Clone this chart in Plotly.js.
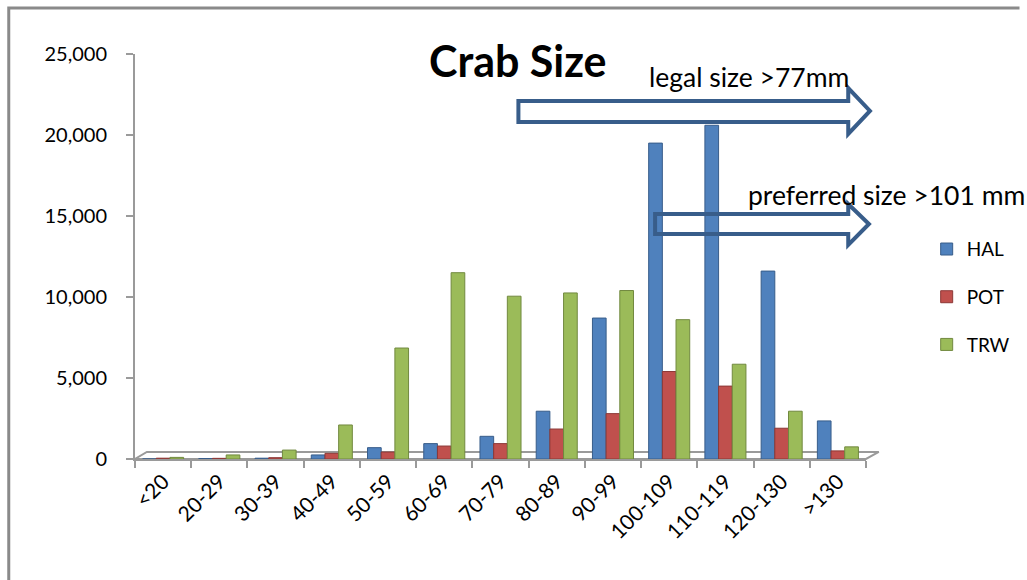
<!DOCTYPE html>
<html>
<head>
<meta charset="utf-8">
<script src="https://cdn.plot.ly/plotly-3.0.1.min.js"></script>
<style>html,body{margin:0;padding:0;background:#fff;}#chart{width:1027px;height:580px;}</style>
</head>
<body>
<div id="chart"></div>
<script>
const categories = ['<20','20-29','30-39','40-49','50-59','60-69','70-79','80-89','90-99','100-109','110-119','120-130','>130'];
const HAL = [0, 30, 50, 250, 700, 950, 1400, 2950, 8700, 19500, 20600, 11600, 2350];
const POT = [50, 40, 80, 350, 430, 800, 950, 1850, 2800, 5400, 4500, 1900, 500];
const TRW = [100, 250, 550, 2100, 6850, 11500, 10050, 10250, 10400, 8600, 5850, 2950, 750];
const seriesNames = ['HAL','POT','TRW'];
const seriesColors = ['#4F81BD','#C0504D','#9BBB59'];
const sideColors = ['#385D8A','#8C3836','#71893F'];
const yTicks = [0, 5000, 10000, 15000, 20000, 25000];

const FONT = 'Lato, "Open Sans", sans-serif';
const data = [HAL, POT, TRW].map((vals, i) => ({
  type: 'bar', x: categories, y: vals, name: seriesNames[i], legendgroup: seriesNames[i],
  marker: {color: seriesColors[i], line: {color: sideColors[i], width: 1}},
  hoverinfo: 'x+y+name'
}));

const gray = '#9a9a9a';
const arrowColor = '#385D8A';
function arrowPath(xl, xb, xt, yt, yb, ht, hb, ym) {
  return `M${xl},${yt} L${xb},${yt} L${xb},${ht} L${xt},${ym} L${xb},${hb} L${xb},${yb} L${xl},${yb} Z`;
}

const layout = {
  width: 1027, height: 580,
  margin: {l: 135, r: 151, t: 54, b: 121, pad: 0},
  paper_bgcolor: '#fff', plot_bgcolor: 'rgba(0,0,0,0)',
  font: {family: FONT, color: '#000', size: 20},
  barmode: 'group', bargap: 0.27, bargroupgap: 0,
  showlegend: true,
  legend: {x: 1.083, y: 0.565, xanchor: 'left', yanchor: 'top', font: {size: 19, family: FONT},
           tracegroupgap: 20, bgcolor: 'rgba(0,0,0,0)', itemwidth: 30},
  xaxis: {type: 'category', tickangle: -45, showline: true, linecolor: gray, linewidth: 2,
          ticks: 'outside', tickson: 'boundaries', ticklen: 7, tickcolor: gray, tickwidth: 2,
          showgrid: false, zeroline: false, tickfont: {size: 21, family: FONT}, fixedrange: true},
  yaxis: {range: [0, 25000], tickvals: yTicks, tickformat: ',', showline: true, linecolor: gray, linewidth: 2,
          ticks: 'outside', ticklen: 7, tickcolor: gray, tickwidth: 2, showgrid: false, zeroline: false,
          tickfont: {size: 20, family: FONT}, ticklabelstandoff: 15, fixedrange: true},
  shapes: [
    {type: 'path', xref: 'paper', yref: 'paper', path: 'M-0.1727,-0.31 L-0.1727,1.1136 L1.21,1.1136',
     line: {color: '#8a8a8a', width: 3}, layer: 'below'},
    {type: 'path', xref: 'paper', yref: 'paper', path: 'M0,0 L1,0 L1.0175,0.0173 L0.0162,0.0173 Z',
     line: {color: gray, width: 2}, fillcolor: '#ffffff', layer: 'below'},
    {type: 'path', xref: 'paper', yref: 'paper',
     path: arrowPath(0.5245, 0.9757, 1.0054, 0.884, 0.8321, 0.916, 0.8025, 0.8593),
     line: {color: arrowColor, width: 4}, fillcolor: 'rgba(255,255,255,0)', layer: 'above'},
    {type: 'path', xref: 'paper', yref: 'paper',
     path: arrowPath(0.7115, 0.9757, 1.004, 0.6049, 0.5556, 0.6296, 0.5284, 0.5802),
     line: {color: arrowColor, width: 4}, fillcolor: 'rgba(255,255,255,0)', layer: 'above'}
  ],
  annotations: [
    {text: '<b>Crab Size</b>', xref: 'paper', yref: 'paper', x: 0.524, y: 0.985, xanchor: 'center', yanchor: 'middle',
     showarrow: false, font: {size: 43, family: FONT, color: '#000'}},
    {text: 'legal size >77mm', xref: 'paper', yref: 'paper', x: 0.700, y: 0.943, xanchor: 'left', yanchor: 'middle',
     showarrow: false, font: {size: 26.5, family: FONT, color: '#000'}},
    {text: 'preferred size >101 mm', xref: 'paper', yref: 'paper', x: 0.836, y: 0.652, xanchor: 'left', yanchor: 'middle',
     showarrow: false, font: {size: 26.5, family: FONT, color: '#000'}}
  ]
};

Plotly.newPlot('chart', data, layout, {displayModeBar: false, staticPlot: true});
</script>
</body>
</html>
